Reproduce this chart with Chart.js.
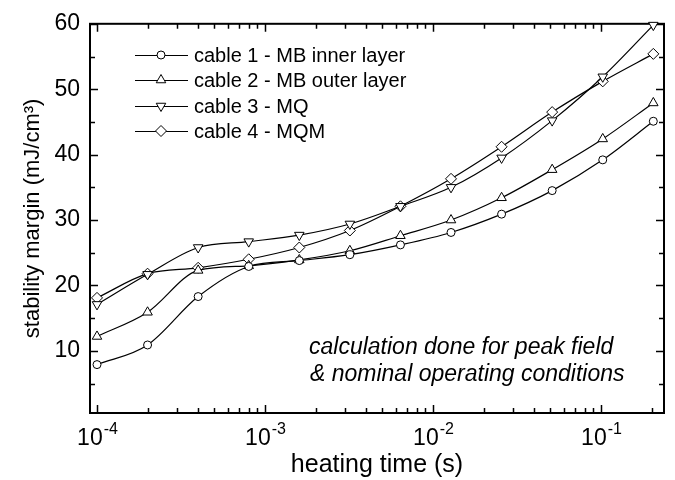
<!DOCTYPE html>
<html>
<head>
<meta charset="utf-8">
<script src="https://cdn.jsdelivr.net/npm/chart.js@4/dist/chart.umd.min.js"></script>
<style>
  html, body { margin: 0; padding: 0; background: #fff; }
  #wrap { width: 675px; height: 480px; }
</style>
</head>
<body>
<div id="wrap"><canvas id="chart" width="675" height="480"></canvas></div>
<script>
// heating time (s), doubling steps
const heatingTime = [1e-4, 2e-4, 4e-4, 8e-4, 1.6e-3, 3.2e-3, 6.4e-3, 1.28e-2, 2.56e-2, 5.12e-2, 1.024e-1, 2.048e-1];

// stability margin (mJ/cm3)
const cable1 = [7.9, 10.9, 18.3, 22.9, 23.8, 24.7, 26.2, 28.1, 30.9, 34.5, 39.2, 45.1];
const cable2 = [12.2, 15.9, 22.3, 23.0, 23.9, 25.3, 27.6, 30.0, 33.4, 37.7, 42.4, 47.9];
const cable3 = [17.1, 21.7, 25.8, 26.7, 27.7, 29.4, 32.1, 35.0, 39.5, 45.2, 51.9, 59.8];
const cable4 = [18.1, 21.8, 22.7, 24.0, 25.8, 28.4, 32.1, 36.3, 41.2, 46.5, 51.2, 55.4];

const seriesNames = ["cable 1 - MB inner layer", "cable 2 - MB outer layer", "cable 3 - MQ", "cable 4 - MQM"];

// ticks
const xMajorTicks = [1e-4, 1e-3, 1e-2, 1e-1];
const xTickExponents = ["-4", "-3", "-2", "-1"];
const yTickValues = [10, 20, 30, 40, 50, 60];

const annotationLines = ["calculation done for peak field", "& nominal operating conditions"];

const FONT = "'Liberation Sans', Arial, Helvetica, sans-serif";

function toPoints(ys) {
  return ys.map((y, i) => ({ x: heatingTime[i], y: y }));
}

function makeDataset(label, ys, style, rotation, radius) {
  return {
    label: label,
    data: toPoints(ys),
    borderColor: "#000",
    borderWidth: 1.2,
    pointStyle: style,
    rotation: rotation,
    pointRadius: radius,
    pointHoverRadius: radius,
    pointBackgroundColor: "#fff",
    pointBorderColor: "#000",
    pointBorderWidth: 1,
    cubicInterpolationMode: "monotone",
    fill: false,
    clip: false
  };
}

// frame, inward ticks, superscript x labels, legend, note
const decorPlugin = {
  id: "decor",
  beforeDatasetsDraw(chart) {
    const { ctx, chartArea: a } = chart;
    const xs = chart.scales.x, ys = chart.scales.y;
    ctx.save();
    ctx.strokeStyle = "#000";
    ctx.lineWidth = 2;
    ctx.strokeRect(a.left, a.top, a.right - a.left, a.bottom - a.top);

    ctx.lineWidth = 1.5;
    ctx.beginPath();
    // x ticks (major + minor), bottom and top
    for (let d = -5; d <= 0; d++) {
      for (let m = 1; m <= 9; m++) {
        const v = m * Math.pow(10, d);
        if (v < xs.min || v > xs.max) continue;
        const px = Math.round(xs.getPixelForValue(v)) + 0.5;
        const len = m === 1 ? 8 : 5;
        ctx.moveTo(px, a.bottom); ctx.lineTo(px, a.bottom - len);
        ctx.moveTo(px, a.top); ctx.lineTo(px, a.top + len);
      }
    }
    // y ticks every 5, major every 10
    for (let v = 5; v <= 60; v += 5) {
      if (v < ys.min) continue;
      const py = Math.round(ys.getPixelForValue(v)) + 0.5;
      const len = v % 10 === 0 ? 8 : 5;
      ctx.moveTo(a.left, py); ctx.lineTo(a.left + len, py);
      ctx.moveTo(a.right, py); ctx.lineTo(a.right - len, py);
    }
    ctx.stroke();

    // x labels 10^n
    ctx.fillStyle = "#000";
    ctx.textBaseline = "alphabetic";
    xMajorTicks.forEach((v, i) => {
      const px = xs.getPixelForValue(v);
      ctx.font = "23px " + FONT;
      const wBase = ctx.measureText("10").width;
      ctx.font = "16px " + FONT;
      const wExp = ctx.measureText(xTickExponents[i]).width;
      const x0 = px - (wBase + wExp) / 2;
      ctx.font = "23px " + FONT;
      ctx.textAlign = "left";
      ctx.fillText("10", x0, a.bottom + 32);
      ctx.font = "16px " + FONT;
      ctx.fillText(xTickExponents[i], x0 + wBase + 1, a.bottom + 21);
    });
    ctx.restore();
  },
  afterDatasetsDraw(chart) {
    const { ctx } = chart;
    ctx.save();
    // legend
    const rowY = [55, 80, 106, 131];
    chart.data.datasets.forEach((ds, i) => {
      const y = rowY[i];
      ctx.strokeStyle = "#000";
      ctx.lineWidth = 1.2;
      ctx.beginPath();
      ctx.moveTo(135, y + 0.5); ctx.lineTo(188, y + 0.5);
      ctx.stroke();
      ctx.fillStyle = "#fff";
      ctx.lineWidth = 1;
      Chart.helpers.drawPoint(ctx, {
        pointStyle: ds.pointStyle, rotation: ds.rotation, radius: ds.pointRadius, borderWidth: 1
      }, 161, y);
      ctx.fillStyle = "#000";
      ctx.font = "20px " + FONT;
      ctx.textAlign = "left";
      ctx.textBaseline = "middle";
      ctx.fillText(seriesNames[i], 194, y + 1);
    });
    // note
    ctx.font = "italic 23px " + FONT;
    ctx.textBaseline = "alphabetic";
    ctx.fillText(annotationLines[0], 309, 354);
    ctx.fillText(annotationLines[1], 310, 381);
    ctx.restore();
  }
};

const ctx = document.getElementById("chart").getContext("2d");

new Chart(ctx, {
  type: "line",
  data: {
    datasets: [
      makeDataset(seriesNames[0], cable1, "circle", 0, 4),
      makeDataset(seriesNames[1], cable2, "triangle", 0, 5.5),
      makeDataset(seriesNames[2], cable3, "triangle", 180, 5.5),
      makeDataset(seriesNames[3], cable4, "rectRot", 0, 5.5)
    ]
  },
  options: {
    responsive: false,
    animation: false,
    events: [],
    layout: { padding: { top: 14, right: 11, left: 0, bottom: 0 } },
    plugins: {
      legend: { display: false },
      tooltip: { enabled: false }
    },
    scales: {
      x: {
        type: "logarithmic",
        min: 9.085e-5,
        max: 0.2371,
        grid: { display: false, drawTicks: false },
        border: { display: false },
        ticks: { display: false },
        title: {
          display: true,
          text: "heating time (s)",
          color: "#000",
          font: { family: FONT, size: 25 },
          padding: { top: 0, bottom: 0 }
        },
        afterFit: (scale) => { scale.height = 67; }
      },
      y: {
        min: 0.5,
        max: 60,
        afterBuildTicks: (scale) => { scale.ticks = yTickValues.map(v => ({ value: v })); },
        grid: { display: false, drawTicks: false },
        border: { display: false },
        ticks: {
          color: "#000",
          font: { family: FONT, size: 23 },
          padding: 10
        },
        title: {
          display: true,
          text: "stability margin (mJ/cm³)",
          color: "#000",
          font: { family: FONT, size: 22 },
          padding: { top: 20, bottom: 0 }
        },
        afterFit: (scale) => { scale.width = 90; }
      }
    }
  },
  plugins: [decorPlugin]
});
</script>
</body>
</html>
